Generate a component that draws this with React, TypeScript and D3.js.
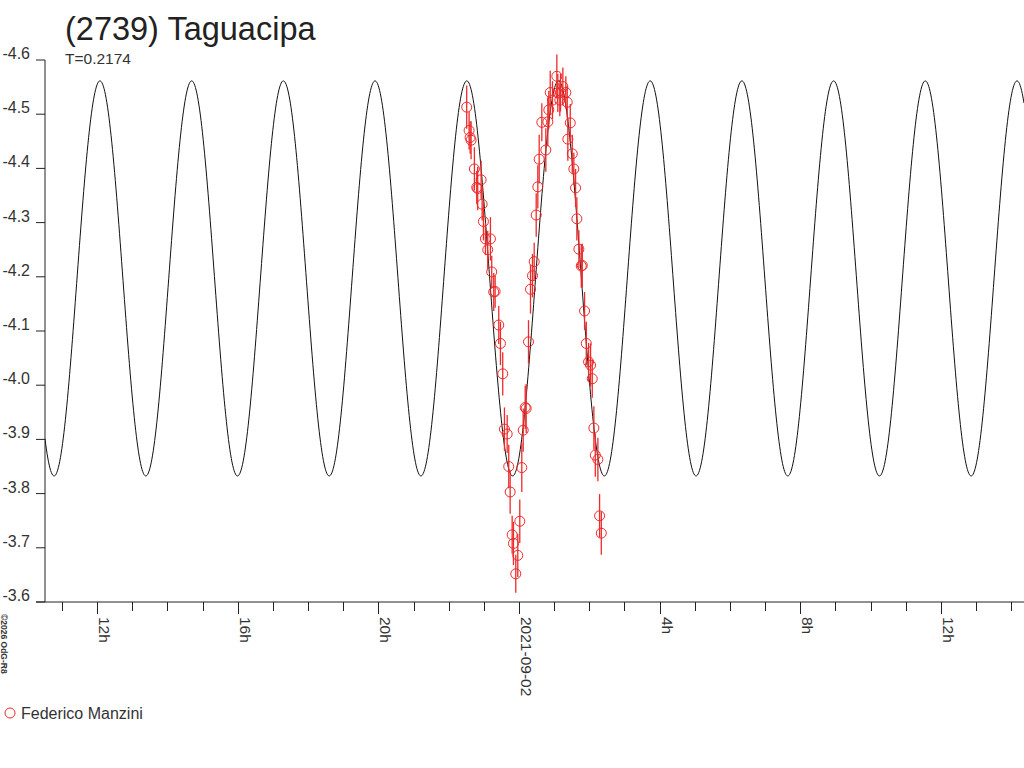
import { scaleLinear, scaleUtc, utcHour, line, range } from 'd3';

// observation window shown on the x axis (UTC)
const DOMAIN_START = '2021-09-01T10:31:00Z';
const DOMAIN_END = '2021-09-02T14:22:00Z';
const REF_TIME = '2021-09-02T00:00:00Z';

const MAG_TICKS = [-4.6, -4.5, -4.4, -4.3, -4.2, -4.1, -4.0, -3.9, -3.8, -3.7, -3.6];

// fitted light curve (2nd harmonic dominant)
const PERIOD_DAYS = 0.2174;
const FIT_MEAN = -4.197;
const FIT_AMP = 0.3645;
const FIT_PEAK_HOUR = -1.485; // hours from REF_TIME

// Federico Manzini observations: hours from REF_TIME, reduced magnitude, error
const obsHours = [
  -1.487, -1.419, -1.39, -1.362, -1.268, -1.202, -1.174, -1.077, -1.048, -1.011,
  -0.954, -0.812, -0.889, -0.775, -0.718, -0.678, -0.575, -0.527, -0.462, -0.413,
  -0.336, -0.291, -0.251, -0.194, -0.157, -0.091, -0.034, 0.023, 0.08, 0.12,
  0.177, 0.205, 0.271, 0.328, 0.385, 0.433, 0.49, 0.536, 0.575, 0.65,
  0.764, 0.821, 0.849, 0.889, 0.954, 1.077, 1.105, 1.162, 1.182, 1.248,
  1.333, 1.373, 1.39, 1.459, 1.516, 1.561, 1.61, 1.647, 1.704, 1.772,
  1.801, 1.866, 1.915, 1.98, 2.037, 2.085, 2.131, 2.171, 2.245, 2.293, 2.342,
];
const obsMag = [
  -4.513, -4.47, -4.457, -4.452, -4.399, -4.365, -4.363, -4.379, -4.334, -4.302,
  -4.27, -4.27, -4.25, -4.209, -4.172, -4.173, -4.111, -4.077, -4.021, -3.919,
  -3.91, -3.85, -3.803, -3.724, -3.708, -3.652, -3.686, -3.749, -3.848, -3.917,
  -3.959, -3.957, -4.08, -4.177, -4.202, -4.228, -4.314, -4.366, -4.417, -4.485,
  -4.434, -4.486, -4.508, -4.54, -4.526, -4.57, -4.539, -4.526, -4.54, -4.551,
  -4.54, -4.522, -4.454, -4.484, -4.427, -4.399, -4.364, -4.307, -4.251, -4.22,
  -4.221, -4.137, -4.077, -4.043, -4.037, -4.012, -3.921, -3.871, -3.863, -3.759, -3.727,
];
const obsErr = [
  0.04, 0.035, 0.03, 0.035, 0.04, 0.03, 0.04, 0.035, 0.03, 0.035,
  0.03, 0.04, 0.035, 0.03, 0.035, 0.03, 0.035, 0.04, 0.04, 0.04,
  0.035, 0.04, 0.04, 0.035, 0.04, 0.035, 0.04, 0.04, 0.045, 0.04,
  0.04, 0.045, 0.04, 0.045, 0.04, 0.035, 0.04, 0.04, 0.045, 0.035,
  0.04, 0.045, 0.035, 0.04, 0.035, 0.04, 0.035, 0.03, 0.035, 0.035,
  0.03, 0.03, 0.04, 0.035, 0.035, 0.03, 0.035, 0.04, 0.035, 0.04,
  0.04, 0.035, 0.04, 0.035, 0.04, 0.035, 0.04, 0.04, 0.04, 0.04, 0.04,
];

const OBSERVER = 'Federico Manzini';
const TITLE = '(2739) Taguacipa';

const WIDTH = 1024;
const HEIGHT = 768;
const PLOT = { left: 45, right: 1024, top: 60, bottom: 602 };
const RED = '#ee2a2a';
const FONT = 'Arial, "Liberation Sans", sans-serif';

export default function App() {
  const start = new Date(DOMAIN_START);
  const end = new Date(DOMAIN_END);
  const ref = new Date(REF_TIME).getTime();

  const x = scaleUtc().domain([start, end]).range([PLOT.left, PLOT.right]);
  const y = scaleLinear().domain([-3.6, -4.6]).range([PLOT.bottom, PLOT.top]);

  const hourToDate = (h: number) => new Date(ref + h * 3600 * 1000);

  const halfPeriodHours = (PERIOD_DAYS * 24) / 2;
  const fitMag = (h: number) =>
    FIT_MEAN - FIT_AMP * Math.cos((2 * Math.PI * (h - FIT_PEAK_HOUR)) / halfPeriodHours);

  const h0 = (start.getTime() - ref) / 3600000;
  const h1 = (end.getTime() - ref) / 3600000;
  const curveHours = range(h0, h1, 0.02).concat([h1]);
  const curvePath = line<number>()
    .x((h) => x(hourToDate(h)))
    .y((h) => y(fitMag(h)))(curveHours);

  const hourTicks = utcHour.every(1)!.range(start, end);

  const tickLabel = (d: Date) => {
    const hr = d.getUTCHours();
    if (hr === 0) {
      return `${d.getUTCFullYear()}-${String(d.getUTCMonth() + 1).padStart(2, '0')}-${String(d.getUTCDate()).padStart(2, '0')}`;
    }
    return `${hr}h`;
  };

  return (
    <>
      <style>{'body{margin:0}'}</style>
      <svg width={WIDTH} height={HEIGHT} style={{ display: 'block', background: '#fff', fontFamily: FONT }}>
        <defs>
          <clipPath id="plot-clip">
            <rect x={PLOT.left} y={PLOT.top - 10} width={PLOT.right - PLOT.left} height={PLOT.bottom - PLOT.top + 10} />
          </clipPath>
        </defs>

        <text x={65} y={40} fontSize={32.5} fill="#222">
          {TITLE}
        </text>
        <text x={65} y={64} fontSize={15.5} fill="#333">
          T={PERIOD_DAYS}
        </text>

        {/* y axis */}
        <line x1={PLOT.left} x2={PLOT.left} y1={PLOT.top} y2={PLOT.bottom} stroke="#222" />
        {MAG_TICKS.map((t) => (
          <g key={t}>
            <line x1={PLOT.left - 9} x2={PLOT.left} y1={y(t)} y2={y(t)} stroke="#222" />
            <text x={30} y={y(t) - 1} fontSize={16} textAnchor="end" fill="#333">
              {t.toFixed(1)}
            </text>
          </g>
        ))}

        {/* x axis */}
        <line x1={PLOT.left - 9} x2={PLOT.right} y1={PLOT.bottom} y2={PLOT.bottom} stroke="#222" />
        {hourTicks.map((d) => {
          const major = d.getUTCHours() % 4 === 0;
          const tx = Math.round(x(d)) + 0.5;
          return (
            <g key={d.getTime()}>
              <line x1={tx} x2={tx} y1={PLOT.bottom} y2={PLOT.bottom + (major ? 12 : 9)} stroke="#222" />
              {major ? (
                <text
                  transform={`translate(${tx + 1} ${PLOT.bottom + 15}) rotate(90)`}
                  fontSize={15.5}
                  fill="#333"
                >
                  {tickLabel(d)}
                </text>
              ) : null}
            </g>
          );
        })}

        <text transform="translate(1 614) rotate(90)" fontSize={8.5} fontWeight="bold" fill="#333">
          ©2026 OdG-R8
        </text>

        {/* fitted curve */}
        <path d={curvePath ?? ''} fill="none" stroke="#111" strokeWidth={1} clipPath="url(#plot-clip)" />

        {/* observations */}
        <g>
          {obsHours.map((h, i) => {
            const cx = x(hourToDate(h));
            const cy = y(obsMag[i]);
            return (
              <g key={i}>
                <line
                  x1={cx}
                  x2={cx}
                  y1={y(obsMag[i] - obsErr[i])}
                  y2={y(obsMag[i] + obsErr[i])}
                  stroke={RED}
                  strokeWidth={1.3}
                />
                <circle cx={cx} cy={cy} r={5} fill="none" stroke={RED} strokeWidth={1} />
              </g>
            );
          })}
        </g>

        {/* legend */}
        <circle cx={10} cy={713} r={5} fill="none" stroke={RED} strokeWidth={1} />
        <text x={21} y={719} fontSize={16} fill="#333">
          {OBSERVER}
        </text>
      </svg>
    </>
  );
}
